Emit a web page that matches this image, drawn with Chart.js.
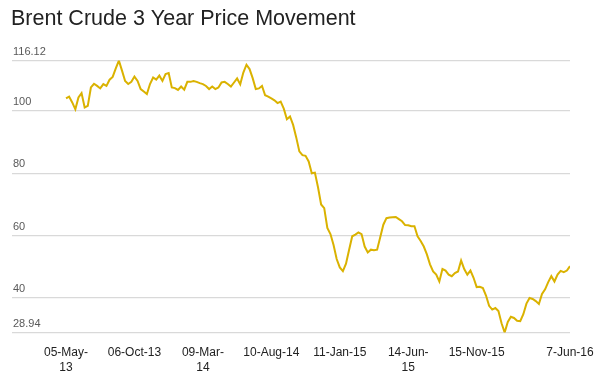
<!DOCTYPE html>
<html>
<head>
<meta charset="utf-8">
<script src="https://cdn.jsdelivr.net/npm/chart.js@4/dist/chart.umd.min.js"></script>
<style>
  html, body { margin: 0; padding: 0; background: #ffffff; }
  #wrap { width: 609px; height: 382px; }
</style>
</head>
<body>
<div id="wrap"><canvas id="c" width="609" height="382"></canvas></div>
<script>
// Weekly Brent crude price (USD/bbl), week index 0 = 05-May-13
const prices = [
  104.0, 104.6, 102.7, 100.5, 104.3, 105.7, 101.1, 101.6, 107.5, 108.7,
  108.0, 107.2, 108.6, 108.0, 110.0, 110.9, 113.6, 116.12, 112.9, 109.6,
  108.6, 109.3, 111.0, 109.6, 107.0, 106.2, 105.4, 108.6, 110.7, 110.0,
  111.3, 109.6, 111.8, 112.1, 107.5, 107.3, 106.7, 107.8, 106.8, 109.3,
  109.3, 109.6, 109.3, 108.9, 108.6, 108.0, 107.0, 107.8, 107.0, 107.5,
  109.1, 109.3, 108.6, 107.8, 109.1, 110.4, 108.5, 112.3, 114.8, 113.4,
  110.5, 107.0, 107.2, 108.0, 105.0, 104.6, 104.0, 103.4, 102.5, 103.0,
  100.7, 97.3, 98.2, 95.5, 91.5, 87.0, 85.8, 85.6, 83.8, 80.0,
  80.2, 75.5, 70.0, 68.8, 62.5, 60.5, 57.0, 52.5, 49.8, 48.6,
  51.0, 55.5, 59.8, 60.3, 61.0, 60.5, 56.5, 54.6, 55.5, 55.3,
  55.5, 59.5, 63.5, 65.6, 65.8, 65.9, 66.0, 65.3, 64.6, 63.4,
  63.3, 63.0, 63.0, 59.8, 58.3, 56.5, 54.0, 50.8, 48.5, 47.5,
  45.3, 49.3, 48.8, 47.5, 47.0, 48.0, 48.5, 52.0, 49.3, 47.5,
  48.8, 46.5, 43.5, 43.6, 43.2, 40.8, 37.5, 36.3, 36.8, 35.8,
  31.9, 28.94, 32.3, 34.0, 33.6, 32.7, 32.6, 34.8, 38.2, 40.0,
  39.7, 39.0, 38.1, 41.3, 42.8, 45.1, 47.0, 45.3, 47.5, 48.7,
  48.3, 48.8, 50.2
];

// x-axis tick positions (week index) and their labels
const xTickWeeks = [0, 22, 44, 66, 88, 110, 132, 162];
const xTickLabels = [
  ['05-May-', '13'], '06-Oct-13', ['09-Mar-', '14'], '10-Aug-14',
  '11-Jan-15', ['14-Jun-', '15'], '15-Nov-15', '7-Jun-16'
];

// y-axis ticks
const yTickValues = [28.94, 40, 60, 80, 100, 116.12];
const yTickLabels = ['28.94', '40', '60', '80', '100', '116.12'];

const points = prices.map((v, i) => ({ x: i, y: v }));

new Chart(document.getElementById('c'), {
  type: 'line',
  data: {
    datasets: [{
      data: points,
      borderColor: '#DAB200',
      borderWidth: 2,
      pointRadius: 0,
      tension: 0,
      fill: false
    }]
  },
  options: {
    responsive: false,
    animation: false,
    layout: { padding: { left: 11, right: 39, top: 0, bottom: 7.4 } },
    plugins: {
      legend: { display: false },
      tooltip: { enabled: false },
      title: {
        display: true,
        text: 'Brent Crude 3 Year Price Movement',
        align: 'start',
        color: '#222222',
        font: { family: '"Liberation Sans", Arial, sans-serif', size: 21.5, weight: 'normal', lineHeight: 1.2 },
        padding: { top: 5.9, bottom: 28.9 }
      }
    },
    scales: {
      x: {
        type: 'linear',
        min: -17.36,
        max: 162,
        grid: { display: false, drawTicks: false },
        border: { display: false },
        afterBuildTicks: (axis) => { axis.ticks = xTickWeeks.map(v => ({ value: v })); },
        afterFit: (axis) => { axis.height = 42.1; },
        ticks: {
          autoSkip: false,
          maxRotation: 0,
          minRotation: 0,
          padding: 13.3,
          color: '#222222',
          font: { family: '"Liberation Sans", Arial, sans-serif', size: 12, lineHeight: 1.2 },
          callback: (value) => {
            const k = xTickWeeks.indexOf(value);
            return k >= 0 ? xTickLabels[k] : '';
          }
        }
      },
      y: {
        type: 'linear',
        min: 28.94,
        max: 116.12,
        grid: { color: '#d9d9d9', lineWidth: 1.2, drawTicks: false },
        border: { display: false },
        afterBuildTicks: (axis) => { axis.ticks = yTickValues.map(v => ({ value: v })); },
        afterFit: (axis) => { axis.width = 1; },
        ticks: {
          mirror: true,
          padding: 1,
          labelOffset: -9,
          color: '#595959',
          font: { family: '"Liberation Sans", Arial, sans-serif', size: 11 },
          callback: (value) => {
            const k = yTickValues.indexOf(value);
            return k >= 0 ? yTickLabels[k] : '';
          }
        }
      }
    }
  }
});
</script>
</body>
</html>
